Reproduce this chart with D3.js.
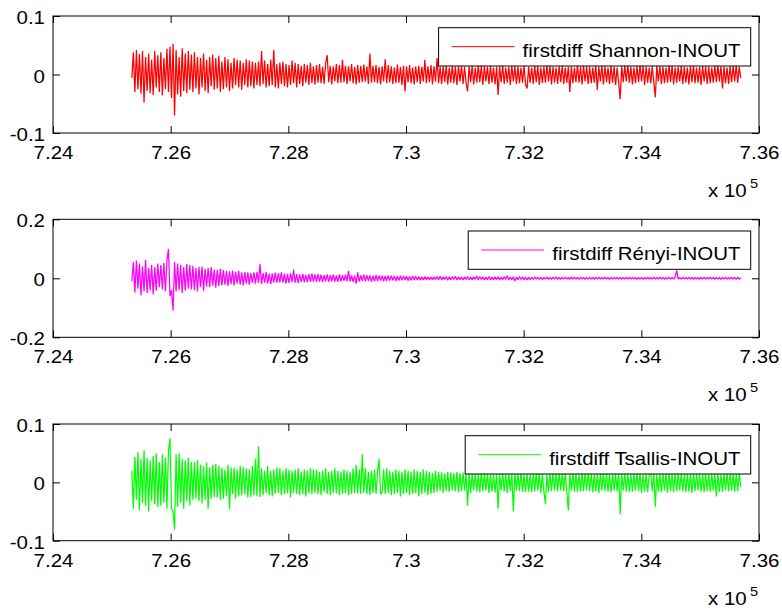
<!DOCTYPE html>
<html lang="en">

<head>
  <meta charset="UTF-8">
  <title>firstdiff INOUT</title>

  <style>
    body {
      margin: 0;
      background: #fff;
    }

    svg {
      display: block;
      background-color: #fff;
    }

    text {
      font-family: "Liberation Sans", Arial, sans-serif;
      fill: #000;
    }

    .frame {
      fill: none;
      stroke: #000;
    }

    .trace {
      fill: none;
      stroke-width: 1.25;
      stroke-linejoin: bevel;
    }

    .legend-box {
      fill: #fff;
      stroke: #000;
    }
  </style>
</head>

<body>
  <div id="chart"></div>

  <script src="https://d3js.org/d3.v7.min.js"></script>

  <script>
    // sample numbers covered by the traces, and the x axis
    const sampleStart = 725340;
    const sampleEnd = 735690;
    const xDomain = [724000, 736000];
    const xTicks = [724000, 726000, 728000, 730000, 732000, 734000, 736000];

    const seriesNames = ['firstdiff Shannon-INOUT', 'firstdiff Rényi-INOUT', 'firstdiff Tsallis-INOUT'];
    const seriesColors = ['#ff0000', '#ff00ff', '#00ff00'];
    const yLimits = [0.1, 0.2, 0.1];

    // values in units of 1e-3
    const shannon = [
      -6, 38, -30, 42, -25, 35, -33, 40, -48, 30, -28, 36, -32, 25, -35, 40, -22, 33, -30, 38,
      -36, 28, -25, 44, -30, 48, -40, 52, -70, 42, -34, 30, -38, 45, -28, 36, -32, 40, -26, 34,
      -30, 38, -24, 30, -34, 28, -22, 36, -28, 25, -32, 30, -20, 34, -26, 28, -24, 32, -30, 22,
      -25, 30, -22, 26, -28, 20, -24, 28, -18, 25, -22, 24, -26, 20, -18, 26, -22, 24, -20, 22,
      -24, 20, -18, 22, -20, 40, -16, 24, -22, 18, -20, 25, -18, 42, -22, 18, -24, 20, -16, 22,
      -20, 18, -22, 16, -18, 24, -15, 20, -22, 18, -16, 15, -20, 18, -14, 16, -18, 20, -15, 14,
      -17, 16, -14, 18, -15, 13, -16, 20, 33, -13, 15, -17, 14, -12, 18, -15, 16, -14, 25, -13,
      15, -16, 14, -12, 18, -15, 13, -17, 16, -14, 15, -13, 17, -12, 14, -16, 36, -14, 15, -13,
      16, -15, 13, -17, 14, -12, 26, -15, 16, -13, 14, -16, 12, -15, 17, -14, 13, -18, 15, -29,
      14, -13, 16, -15, 12, -17, 14, -13, 15, -16, 13, -12, 25, -15, 14, -13, 16, -17, 14, -12,
      28, -15, 13, -16, 14, -13, 15, -17, 12, -14, 16, -15, 13, -18, 14, -12, 15, -16, 13, -14,
      -29, 14, -13, 15, -17, 12, -14, 16, -13, 15, -18, 14, -12, 13, -16, 15, -14, 12, -17, 13,
      -35, 14, -13, 15, -16, 12, -14, 13, -18, 15, -12, 14, -16, 13, -15, 12, -14, 15, -17, -24,
      13, -14, 12, -16, 15, -13, 14, -18, 12, -15, 13, -14, 16, -12, 15, -17, 13, -14, 12, -16,
      14, -13, 15, -16, 12, -14, 13, -30, 14, -15, 12, -13, 16, -14, 13, -17, 15, -12, 14, -16,
      13, -15, 12, -14, 16, -26, 13, -12, 15, -17, 14, -13, 12, -16, 15, -14, 13, -18, 12, -15,
      -42, 14, -13, 15, -12, 16, -14, 13, -17, 12, -15, 14, -13, 16, -12, 15, -18, 13, -14, 12,
      -15, 14, -13, -39, 15, -12, 14, -16, 13, -15, 12, -14, 16, -13, 15, -17, 12, -14, 13, -12,
      15, -16, 13, -14, 12, -17, 14, -13, 16, -15, 12, -14, 13, -18, 15, -12, 14, -16, 13, -15,
      12, -14, 15, -13, 16, -12, 14, -24, 13, -15, 12, -16, 14, -13, 15, -12, 16, -14, 13, -6
    ];

    const renyi = [
      -10, 55, -48, 60, -35, 50, -58, 40, -45, 62, -50, 35, -40, 45, -55, 38, -42, 50, -30, 45,
      -38, 52, -45, 60, 100, -60, -40, -110, 55, -45, 50, -40, 45, -50, 38, -42, 48, -35, 45, -38,
      42, -40, 35, -45, 38, -30, 40, -42, 32, -28, 35, -30, 38, -25, 30, -32, 28, -26, 32, -24,
      28, -22, 25, -26, 24, -20, 26, -24, 22, -18, 25, -22, 20, -24, 22, -18, 20, -22, 18, -16,
      20, -18, 22, -16, 48, -20, 18, -15, 22, -18, 16, -20, 17, -15, 19, -16, 18, -14, 20, -15,
      16, -18, 14, -16, 17, -13, 30, -15, 14, -16, 13, -12, 15, -14, 12, -13, 14, -12, 16, -11,
      13, -12, 14, -11, 12, -13, 11, -10, 13, -12, 11, -10, 12, -11, 10, -12, 13, -10, 11, -9,
      12, -10, 25, -11, 10, -12, 9, -18, 20, -11, 10, -9, 12, -10, 11, -9, 10, -12, 9, -10,
      11, -9, 10, -8, 9, -10, 8, -9, 10, -8, 9, -7, 8, -9, 7, -8, 9, -7, 8, -6,
      7, -8, 6, -7, 8, -6, 7, -5, 6, -7, 5, -6, 6, -5, 5, -6, 4, -5, 5, -4,
      6, -5, 7, -6, 5, -4, 6, -7, 5, -5, 6, -4, 7, -6, 5, -5, 4, -6, 5, -4,
      6, -5, 4, -6, 5, -4, 8, -5, 6, -4, 5, -6, 4, -5, 6, -5, 4, -6, 5, -4,
      5, -6, 4, -5, 6, -4, 9, -5, 4, -6, 5, -9, 4, -5, 6, -4, 5, -5, 4, -6,
      4, -5, 3, -4, 5, -3, 4, -4, 3, -5, 4, -3, 5, -4, 3, -4, 4, -3, 5, -4,
      3, -4, 4, -3, 4, -3, 3, -4, 5, -3, 4, -3, 3, -4, 4, -3, 3, -4, 3, -3,
      4, -3, 3, -4, 3, -3, 4, -3, 3, -3, 4, -3, 3, -4, 3, -3, 4, -3, 3, -3,
      3, -4, 3, -3, 4, -3, 3, -3, 4, -3, 3, -4, 3, -3, 3, -4, 3, -3, 4, -3,
      3, -3, 4, -3, 3, -3, 4, -3, 3, -4, 3, -3, 4, -3, 3, -3, 4, 27, -3, 3,
      -3, 4, -3, 3, -3, 4, -3, 3, -4, 3, -3, 3, -4, 3, -3, 4, -3, 3, -3, 4,
      -3, 3, -4, 3, -3, 3, -4, 3, -3, 4, -3, 3, -3, 4, -3, 3, -4, 3, -3, 2
    ];

    const tsallis = [
      20, -45, 44, -30, 52, -48, 40, -35, 55, -40, 42, -50, 38, -32, 45, -38, 50, -42, 35, -40,
      48, -35, 42, -45, 55, 75, -45, -50, -81, 48, -42, 50, -35, 40, -45, 38, -32, 42, -40, 35,
      -30, 35, -28, 38, -32, 30, -36, 28, -30, 34, -45, 26, -28, 30, -25, 32, -26, 28, -30, 25,
      -28, 22, -24, 30, -46, 26, -20, 25, -28, 22, -24, 28, -22, 26, -20, 24, -26, 22, -25, 28,
      -22, 40, -24, 62, -25, 24, -22, 20, -18, 28, -22, 20, -24, 22, -20, 25, -18, 24, -22, 20,
      -20, 24, -18, 22, -26, 20, -18, 22, -20, 24, -22, 18, -20, 22, -24, 20, -18, 24, -20, 22,
      -18, 22, -20, 18, -22, 20, -17, 24, -20, 18, -22, 20, -18, 24, -19, 20, -22, 18, -20, 22,
      -18, 20, -22, 18, -20, 24, -18, 30, -19, 22, -20, 48, -18, 24, -20, 18, -22, 20, -18, 22,
      -20, 18, 40, -20, -18, 22, -20, 24, -18, 20, -22, 18, -20, 22, -18, 20, -24, 18, -20, 22,
      -18, 20, -22, 18, -20, 22, -18, 20, -24, 18, -20, 22, -18, 20, -22, 18, -20, 16, -18, 20,
      -16, 18, -14, 17, -18, 15, -15, 18, -16, 17, -14, 16, -15, 18, -17, 16, -15, 17, -14, 16,
      -40, 16, -18, 15, -14, 17, -16, 15, -17, 18, -15, 16, -14, 17, -18, 15, -16, 14, -17, 16,
      -45, 15, -14, 17, -16, 15, -18, 14, -15, 16, -50, 17, -14, 16, -15, 18, -16, 14, -17, 15,
      -16, 14, -17, 16, -15, 17, -14, 16, -18, 15, -16, -37, 14, -17, 16, -15, 17, -14, 16, -15,
      17, -14, 16, -15, 18, -16, -48, 15, -14, 17, -16, 15, -17, 14, -16, 18, -15, 16, -14, 17,
      -15, 16, -17, 14, -16, 15, -18, 17, -14, 16, -15, 17, -16, 14, -17, 15, -14, 16, -15, 17,
      -55, 16, -14, 17, -16, 15, -17, 14, -16, 15, -14, 17, -15, 16, -18, 14, -16, 15, -17, 14,
      16, -15, 17, -42, 14, -16, 15, -17, 16, -14, 15, -18, 16, -15, 14, -17, 16, -15, 17, -14,
      16, -15, 14, -17, 15, -16, 14, -18, 16, -15, 17, -14, 15, -16, 14, -17, 16, -15, 14, -16,
      15, -14, 16, -24, 15, -17, 14, -16, 15, -14, 17, -15, 16, -14, 15, -16, 14, -15, 16, -8
    ];

    const seriesValues = [shannon, renyi, tsallis];

    (function () {

      const width = 782;
      const height = 610;
      const left = 53;
      const right = 759;
      const tickLen = 7;
      // the reference text is a little wider than Arial
      const stretch = 1.17;

      const panels = [
        { top: 16, bottom: 133 },
        { top: 219.3, bottom: 337.3 },
        { top: 424, bottom: 540.7 }
      ];

      const svg = d3.select('#chart')
        .append('svg')
        .attr('width', width)
        .attr('height', height);

      const x = d3.scaleLinear()
        .domain(xDomain)
        .range([left, right]);

      const fmtX = d => String(+(d / 1e5).toFixed(2));

      panels.forEach((p, k) => {
        const lim = yLimits[k];
        const values = seriesValues[k];
        const step = (sampleEnd - sampleStart) / (values.length - 1);

        const y = d3.scaleLinear()
          .domain([-lim, lim])
          .range([p.bottom, p.top]);

        const g = svg.append('g').classed('panel', true);

        // trace
        const line = d3.line()
          .x((d, i) => x(sampleStart + i * step))
          .y(d => y(d / 1000));

        g.append('path')
          .datum(values)
          .classed('trace', true)
          .attr('stroke', seriesColors[k])
          .attr('d', line);

        // axes, ticks pointing inward on all four sides
        g.append('g')
          .attr('transform', `translate(0,${p.bottom})`)
          .call(d3.axisBottom(x).tickValues(xTicks).tickSizeInner(-tickLen).tickSizeOuter(0).tickFormat(fmtX))
          .call(a => a.select('.domain').remove())
          .call(a => a.selectAll('text')
            .attr('y', 26)
            .attr('dy', null)
            .style('font-size', '17.5px')
            .attr('transform', `scale(${stretch},1)`));

        g.append('g')
          .attr('transform', `translate(0,${p.top})`)
          .call(d3.axisTop(x).tickValues(xTicks).tickSizeInner(-tickLen).tickSizeOuter(0).tickFormat(''))
          .call(a => a.select('.domain').remove());

        g.append('g')
          .attr('transform', `translate(${left},0)`)
          .call(d3.axisLeft(y).tickValues([-lim, 0, lim]).tickSizeInner(-tickLen).tickSizeOuter(0).tickFormat(d => String(d)))
          .call(a => a.select('.domain').remove())
          .call(a => a.selectAll('text')
            .attr('x', -8 / stretch)
            .attr('y', 2)
            .style('font-size', '17.5px')
            .attr('transform', `scale(${stretch},1)`));

        g.append('g')
          .attr('transform', `translate(${right},0)`)
          .call(d3.axisRight(y).tickValues([-lim, 0, lim]).tickSizeInner(-tickLen).tickSizeOuter(0).tickFormat(''))
          .call(a => a.select('.domain').remove());

        g.append('rect')
          .classed('frame', true)
          .attr('x', left)
          .attr('y', p.top)
          .attr('width', right - left)
          .attr('height', p.bottom - p.top);

        // exponent label
        g.append('text')
          .attr('transform', `translate(708,${p.bottom + 64}) scale(${stretch},1)`)
          .style('font-size', '17.5px')
          .text('x 10');

        g.append('text')
          .attr('transform', `translate(750,${p.bottom + 55}) scale(${stretch},1)`)
          .style('font-size', '12.5px')
          .text('5');

        // legend, right aligned inside the axes
        const lg = g.append('g').classed('legend', true);
        const boxRight = 750.7;
        const boxTop = p.top + 11.7;
        const box = lg.append('rect').classed('legend-box', true);
        const label = lg.append('text')
          .attr('y', boxTop + 29)
          .style('font-size', '17.5px')
          .text(seriesNames[k]);
        const textW = label.node().getComputedTextLength() * stretch;
        const textX = boxRight - 10 - textW;
        label.attr('transform', `translate(${textX},0) scale(${stretch},1)`);

        const lineX1 = textX - 8 - 63;
        lg.append('line')
          .attr('x1', lineX1)
          .attr('x2', textX - 8)
          .attr('y1', boxTop + 19)
          .attr('y2', boxTop + 19)
          .attr('stroke', seriesColors[k]);

        box
          .attr('x', lineX1 - 13)
          .attr('y', boxTop)
          .attr('width', boxRight - (lineX1 - 13))
          .attr('height', 38.3);
      });

    })();
  </script>
</body>

</html>
